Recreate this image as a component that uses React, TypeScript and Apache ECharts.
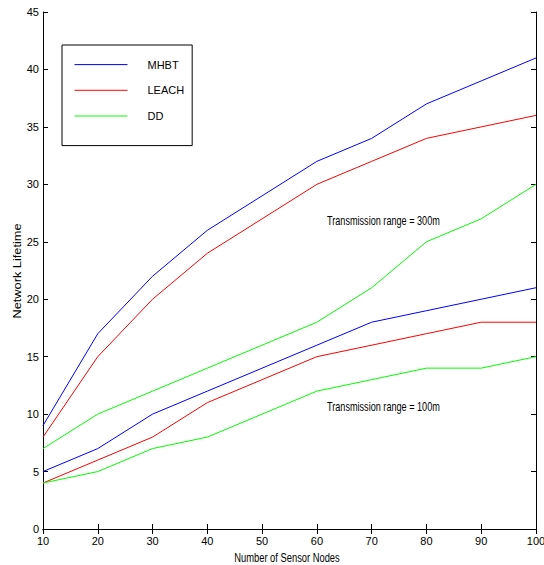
import React, { useEffect, useRef } from "react";
import * as echarts from "echarts";

const nodes = [10, 20, 30, 40, 50, 60, 70, 80, 90, 100];
const mhbt300 = [9, 17, 22, 26, 29, 32, 34, 37, 39, 41];
const leach300 = [8, 15, 20, 24, 27, 30, 32, 34, 35, 36];
const dd300 = [7, 10, 12, 14, 16, 18, 21, 25, 27, 30];
const mhbt100 = [5, 7, 10, 12, 14, 16, 18, 19, 20, 21];
const leach100 = [4, 6, 8, 11, 13, 15, 16, 17, 18, 18];
const dd100 = [4, 5, 7, 8, 10, 12, 13, 14, 14, 15];
const legendNames = ["MHBT", "LEACH", "DD"];
const colors = { MHBT: "#0000ff", LEACH: "#ff0000", DD: "#00ff00" };

const FONT = "'Liberation Sans', Arial, sans-serif";

export default function App() {
  const ref = useRef<HTMLDivElement>(null);
  useEffect(() => {
    if (!ref.current) return;
    const chart = echarts.init(ref.current, null, { renderer: "svg" });
    const pair = (arr: number[]) => nodes.map((n, i) => [n, arr[i]]);
    const mk = (name: string, arr: number[]) => ({
      name,
      type: "line",
      data: pair(arr),
      symbol: "none",
      lineStyle: { color: (colors as any)[name], width: 1 },
      itemStyle: { color: (colors as any)[name] },
      xAxisIndex: 0,
      yAxisIndex: 0,
    });
    const axisLine = { show: true, lineStyle: { color: "#000", width: 1 } };
    const tick = { show: true, inside: true, length: 5, lineStyle: { color: "#000" } };
    chart.setOption({
      animation: false,
      backgroundColor: "#fff",
      grid: { left: 43, top: 12, right: 8, bottom: 36, containLabel: false, outerBoundsMode: "none" },
      legend: {
        data: legendNames,
        orient: "vertical",
        left: 62,
        top: 45,
        itemWidth: 53,
        itemHeight: 14,
        itemGap: 14.5,
        padding: [14, 8, 24, 12],
        borderColor: "#000",
        borderWidth: 1,
        backgroundColor: "#fff",
        selectedMode: false,
        itemStyle: { opacity: 0 },
        lineStyle: { width: 1 },
        textStyle: { fontFamily: FONT, fontSize: 11, color: "#000", padding: [0, 0, 0, 15] },
      },
      xAxis: [
        {
          type: "value",
          min: 10,
          max: 100,
          interval: 10,
          axisLine,
          axisTick: tick,
          splitLine: { show: false },
          axisLabel: { fontFamily: FONT, fontSize: 11, color: "#000", margin: 6 },
        },
        {
          type: "value",
          position: "top",
          min: 10,
          max: 100,
          interval: 10,
          axisLine,
          axisTick: tick,
          splitLine: { show: false },
          axisLabel: { show: false },
        },
      ],
      yAxis: [
        {
          type: "value",
          min: 0,
          max: 45,
          interval: 5,
          axisLine,
          axisTick: tick,
          splitLine: { show: false },
          axisLabel: { fontFamily: FONT, fontSize: 11, color: "#000", margin: 4 },
        },
        {
          type: "value",
          position: "right",
          min: 0,
          max: 45,
          interval: 5,
          axisLine,
          axisTick: tick,
          splitLine: { show: false },
          axisLabel: { show: false },
        },
      ],
      series: [
        mk("MHBT", mhbt300),
        mk("LEACH", leach300),
        mk("DD", dd300),
        mk("MHBT", mhbt100),
        mk("LEACH", leach100),
        mk("DD", dd100),
      ],
      graphic: [
        {
          type: "text",
          x: 327,
          y: 220,
          scaleX: 0.76,
          scaleY: 1.05,
          style: { text: "Transmission range = 300m", font: `12px ${FONT}`, fill: "#000", verticalAlign: "middle" },
        },
        {
          type: "text",
          x: 327,
          y: 406,
          scaleX: 0.76,
          scaleY: 1.05,
          style: { text: "Transmission range = 100m", font: `12px ${FONT}`, fill: "#000", verticalAlign: "middle" },
        },
        {
          type: "text",
          x: 287,
          y: 557,
          scaleX: 0.78,
          scaleY: 1.05,
          style: { text: "Number of Sensor Nodes", font: `12px ${FONT}`, fill: "#000", align: "center", verticalAlign: "middle" },
        },
        {
          type: "text",
          x: 18,
          y: 271,
          rotation: Math.PI / 2,
          scaleX: 1.28,
          style: { text: "Network Lifetime", font: `10px ${FONT}`, fill: "#000", align: "center", verticalAlign: "middle" },
        },
      ],
    });
    return () => chart.dispose();
  }, []);
  return (
    <div
      ref={ref}
      style={{ position: "fixed", left: 0, top: 0, width: 544, height: 565 }}
    />
  );
}
